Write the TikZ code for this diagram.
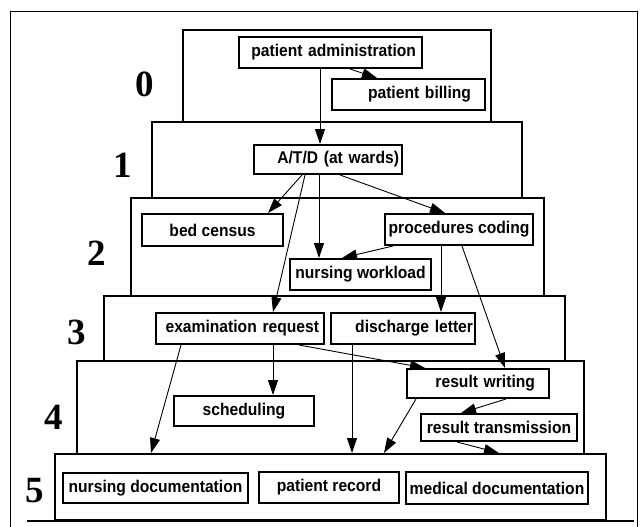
\documentclass[tikz,border=0pt]{standalone}
\usepackage{fontspec}
\setmainfont{Liberation Sans}
\newfontfamily\modfont{Liberation Sans}[FakeStretch=0.92]
\newfontfamily\tierfont{Liberation Serif}
\usetikzlibrary{arrows.meta}
\tikzset{
  tier/.style={draw, line width=2pt, inner sep=0pt, anchor=north west},
  modbox/.style={draw, line width=2pt, inner sep=0pt, anchor=north west, fill=white,
    font=\modfont\fontsize{17}{19}\selectfont\bfseries},
  rightbox/.style={modbox, text width=#1, align=right},
  tiernum/.style={font=\tierfont\fontsize{37}{37}\selectfont\bfseries},
  arr/.style={-{Triangle[length=15pt,width=10pt]}, line width=0.9pt}
}
\begin{document}
\begin{tikzpicture}[x=1pt, y=-1pt]
\useasboundingbox (0,0) rectangle (640,527);
% Outer frame
\draw[line width=0.9pt] (10,527) -- (10,11) -- (637,11) -- (637,527);
% Tiers
\node[tier, minimum width=308, minimum height=92] (t0) at (182,29) {};
\node[tier, minimum width=370, minimum height=76] (t1) at (151,121) {};
\node[tier, minimum width=413, minimum height=98] (t2) at (130,197) {};
\node[tier, minimum width=461, minimum height=65] (t3) at (103,295) {};
\node[tier, minimum width=507, minimum height=93] (t4) at (76,360) {};
\node[tier, minimum width=551, minimum height=66] (t5) at (54,453) {};
\draw[line width=2pt] ([xshift=-27]t5.south west) -- ([xshift=27]t5.south east);
% Tier numbers
\node[tiernum] (n0) at (145,84) {0};
\node[tiernum] (n1) at (123,165) {1};
\node[tiernum] (n2) at (97,253) {2};
\node[tiernum] (n3) at (77,332) {3};
\node[tiernum] (n4) at (54,417) {4};
\node[tiernum] (n5) at (35,491) {5};
% Modules
\node[rightbox=171, minimum width=183, minimum height=31] (padm) at (238,36) {patient administration};
\node[rightbox=125, minimum width=153, minimum height=31] (pbill) at (331,78) {patient billing};
\node[rightbox=142, minimum width=148, minimum height=29] (atd) at (253,144) {A/T/D (at wards)};
\node[modbox, minimum width=141, minimum height=32] (bed) at (141,213) {bed census};
\node[modbox, minimum width=148, minimum height=31] (proc) at (384,213) {procedures coding};
\node[modbox, minimum width=141, minimum height=31] (nwork) at (289,258) {nursing workload};
\node[rightbox=158, minimum width=168, minimum height=31] (exam) at (155,312) {examination request};
\node[rightbox=140, minimum width=144, minimum height=31] (disch) at (330,312) {discharge letter};
\node[rightbox=114, minimum width=142, minimum height=29] (rwrite) at (406,368) {result writing};
\node[modbox, minimum width=140, minimum height=30] (sched) at (173,395) {scheduling};
\node[modbox, minimum width=156, minimum height=27] (rtrans) at (420,413) {result transmission};
\node[modbox, minimum width=185, minimum height=30] (ndoc) at (62,472) {nursing documentation};
\node[modbox, minimum width=140, minimum height=31] (prec) at (258,471) {patient record};
\node[modbox, minimum width=182, minimum height=32] (mdoc) at (405,471) {medical documentation};
% Data flows
\draw[arr] ([xshift=82]padm.south west) -- ([xshift=67]atd.north west);
\draw[arr] ([xshift=112]padm.south west) -- ([xshift=46]pbill.north west);
\draw[arr] ([xshift=49]atd.south west) -- ([xshift=127]bed.north west);
\draw[arr] ([xshift=52]atd.south west) -- ([xshift=118]exam.north west);
\draw[arr] ([xshift=66]atd.south west) -- ([xshift=30]nwork.north west);
\draw[arr] ([xshift=87]atd.south west) -- ([xshift=61]proc.north west);
\draw[arr] ([xshift=9]proc.south west) -- ([xshift=53]nwork.north west);
\draw[arr] ([xshift=57]proc.south west) -- ([xshift=111]disch.north west);
\draw[arr] ([xshift=78]proc.south west) -- ([xshift=99]rwrite.north west);
\draw[arr] ([xshift=118]exam.south west) -- ([xshift=100]sched.north west);
\draw[arr] ([xshift=144]exam.south west) -- ([xshift=19]rwrite.north west);
\draw[arr] ([xshift=26]exam.south west) -- ([xshift=97]t5.north west);
\draw[arr] ([xshift=22]disch.south west) -- ([xshift=298]t5.north west);
\draw[arr] ([xshift=10]rwrite.south west) -- ([xshift=330]t5.north west);
\draw[arr] ([xshift=100]rwrite.south west) -- ([xshift=41]rtrans.north west);
\draw[arr] ([xshift=37]rtrans.south west) -- ([xshift=445]t5.north west);
\end{tikzpicture}
\end{document}
